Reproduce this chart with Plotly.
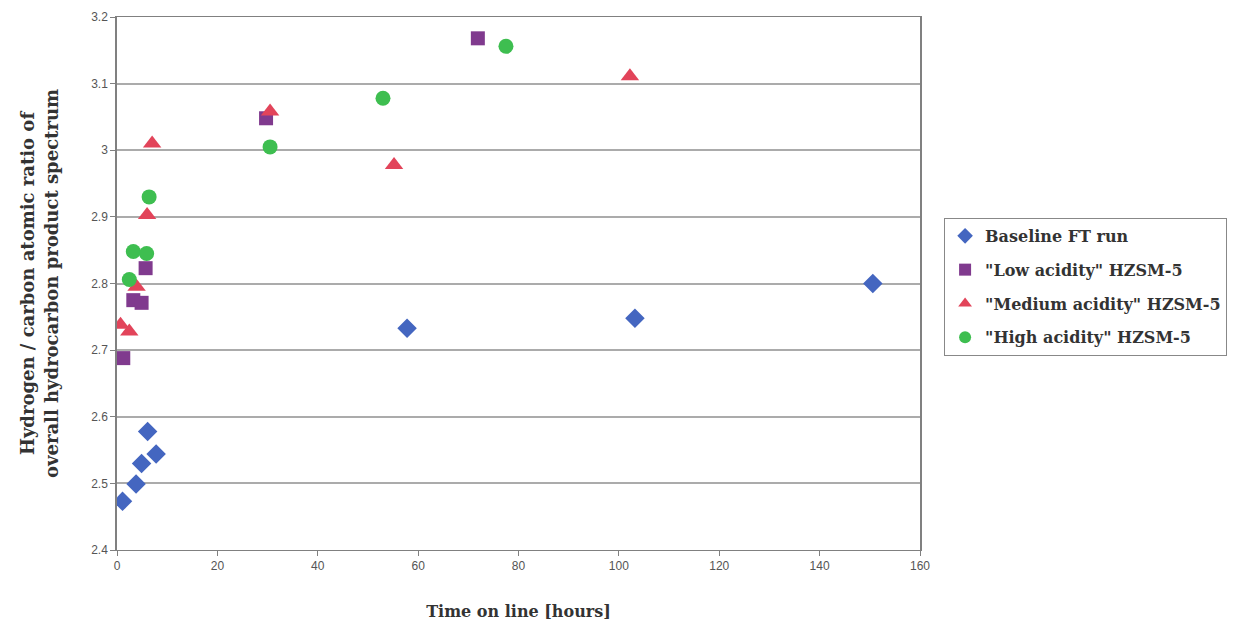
import plotly.graph_objects as go

# Data
baseline_x = [1.1, 3.8, 4.9, 6.1, 7.8, 57.8, 103.2, 150.6]
baseline_y = [2.473, 2.499, 2.530, 2.578, 2.544, 2.733, 2.748, 2.800]

low_x = [1.25, 3.25, 4.9, 5.7, 29.7, 71.9]
low_y = [2.688, 2.775, 2.771, 2.823, 3.048, 3.168]

medium_x = [0.7, 2.45, 3.9, 6.0, 7.0, 30.5, 55.2, 102.2]
medium_y = [2.738, 2.728, 2.795, 2.903, 3.010, 3.058, 2.978, 3.111]

high_x = [2.45, 3.25, 5.9, 6.4, 30.5, 53.0, 77.5]
high_y = [2.806, 2.848, 2.845, 2.930, 3.005, 3.078, 3.156]

series_names = ['Baseline FT run', '"Low acidity" HZSM-5',
                '"Medium acidity" HZSM-5', '"High acidity" HZSM-5']

y_tickvals = [2.4, 2.5, 2.6, 2.7, 2.8, 2.9, 3.0, 3.1, 3.2]
y_ticktext = ['2.4', '2.5', '2.6', '2.7', '2.8', '2.9', '3', '3.1', '3.2']
x_tickvals = [0, 20, 40, 60, 80, 100, 120, 140, 160]

fig = go.Figure()
fig.add_trace(go.Scatter(x=baseline_x, y=baseline_y, mode='markers', name='<b>' + series_names[0] + '</b>',
                         legendgroup='a',
                         marker=dict(symbol='diamond', size=15, color='#4466C0')))
fig.add_trace(go.Scatter(x=low_x, y=low_y, mode='markers', name='<b>' + series_names[1] + '</b>',
                         legendgroup='b',
                         marker=dict(symbol='square', size=14, color='#803A8E')))
fig.add_trace(go.Scatter(x=medium_x, y=medium_y, mode='markers', name='<b>' + series_names[2] + '</b>',
                         legendgroup='c',
                         marker=dict(symbol='triangle-up', size=16, color='#E2445A')))
fig.add_trace(go.Scatter(x=high_x, y=high_y, mode='markers', name='<b>' + series_names[3] + '</b>',
                         legendgroup='d',
                         marker=dict(symbol='circle', size=15, color='#3EBE50')))

serif = 'DejaVu Serif, serif'
sans = 'Liberation Sans, Arial, sans-serif'

fig.update_layout(
    width=1236, height=613,
    margin=dict(l=109, r=324, t=9, b=71),
    paper_bgcolor='white', plot_bgcolor='white',
    showlegend=True,
    legend=dict(x=1.03, y=0.623, xanchor='left', yanchor='top',
                bordercolor='#888888', borderwidth=1,
                font=dict(family=serif, size=16, color='#333333'),
                itemsizing='constant', tracegroupgap=10,
                itemwidth=30,
                traceorder='grouped'),
    xaxis=dict(range=[0, 160], tickvals=x_tickvals, automargin=False,
               showgrid=False, zeroline=False,
               showline=True, linecolor='#808080', linewidth=1, mirror=True,
               ticks='outside', ticklen=5, tickcolor='#808080',
               tickfont=dict(family=sans, size=12, color='#555555'),
               title=dict(text='<b>Time on line [hours]</b>',
                          font=dict(family=serif, size=16, color='#333333'),
                          standoff=36)),
    yaxis=dict(range=[2.4, 3.2], tickvals=y_tickvals, ticktext=y_ticktext, automargin=False,
               showgrid=True, gridcolor='#ABABAB', gridwidth=1.5, zeroline=False,
               showline=True, linecolor='#808080', linewidth=1.5, mirror=True,
               ticks='outside', ticklen=5, tickcolor='#808080',
               tickfont=dict(family=sans, size=12, color='#555555'),
               title=dict(text='<b>Hydrogen / carbon atomic ratio of<br>overall hydrocarbon product spectrum</b>',
                          font=dict(family=serif, size=18, color='#333333'),
                          standoff=28)),
)

fig.write_html("out.html")
